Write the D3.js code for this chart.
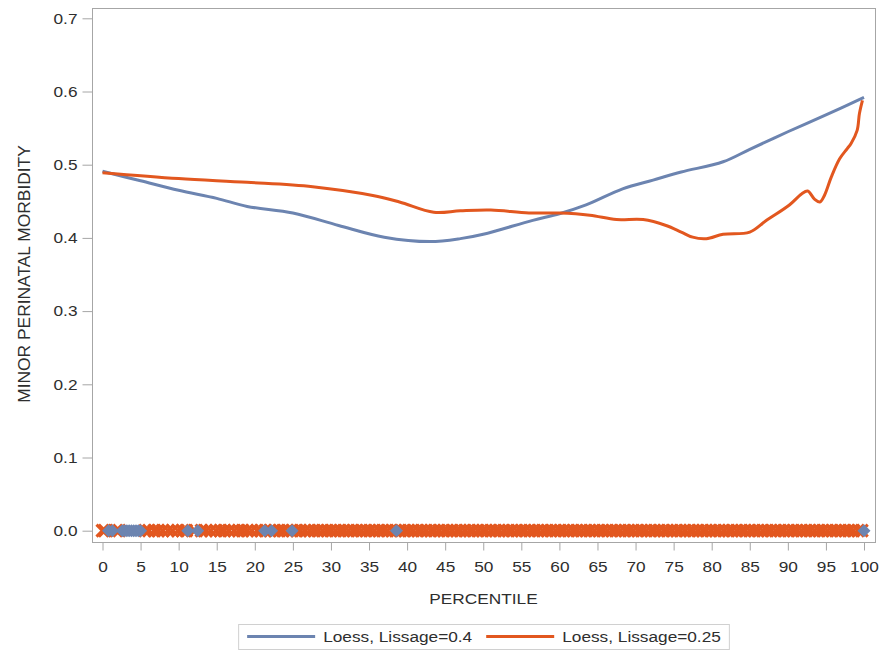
<!DOCTYPE html>
<html>
<head>
<meta charset="utf-8">
<script src="https://cdn.jsdelivr.net/npm/d3@7"></script>
<style>
  html, body { margin: 0; padding: 0; background: #fff; }
  svg { display: block; font-family: "Liberation Sans", Arial, sans-serif; }
</style>
</head>
<body>
<svg id="chart" width="884" height="653"></svg>
<script>
// Loess fit, smoothing 0.4
const loess40X = [0, 5, 10, 15, 19, 25, 31, 37, 43, 47, 50, 56.5, 60, 63.5, 68.3, 72.3, 76, 81.5, 85, 90, 95, 100];
const loess40Y = [0.491, 0.478, 0.465, 0.454, 0.443, 0.434, 0.417, 0.401, 0.395, 0.399, 0.405, 0.424, 0.433, 0.445, 0.467, 0.479, 0.490, 0.504, 0.521, 0.545, 0.568, 0.592];

// Loess fit, smoothing 0.25
const loess25X = [0, 10, 19, 27.6, 35.5, 39, 43.5, 47, 51, 56, 60, 64, 67.5, 71, 74, 76, 77.5, 79.3, 81.5, 85, 87.2, 90.2, 91.8, 92.6, 93.5, 94.2, 94.8, 95.7, 96.8, 97.8, 98.3, 99.1, 99.4, 99.8];
const loess25Y = [0.489, 0.481, 0.476, 0.470, 0.458, 0.449, 0.435, 0.437, 0.438, 0.434, 0.434, 0.431, 0.425, 0.425, 0.417, 0.408, 0.401, 0.399, 0.405, 0.408, 0.424, 0.445, 0.460, 0.464, 0.453, 0.449, 0.458, 0.483, 0.508, 0.522, 0.529, 0.547, 0.570, 0.588];

// Observed cases (morbidity = 0), by percentile
const obsGroup1 = [0.8, 1.3, 2.6, 2.9, 3.2, 3.5, 3.8, 4.1, 4.4, 4.7, 5.0, 11.2, 12.5, 21.3, 22.2, 24.9, 38.6, 100];
const obsGroup2 = [0, 0.3, 1.8, 2.2, 5.6, 6.1, 6.8, 7.3, 7.9, 8.6, 9.2, 9.9, 10.5, 11.0, 12.1, 13.0, 13.6, 14.2, 14.9, 15.5, 16.0, 16.6, 17.3, 17.9, 18.4, 19.0, 19.6, 20.3, 20.8, 21.4, 22.0, 22.6, 23.2, 23.7, 24.3, 24.9, 25.5, 26.0, 26.6, 27.2, 27.8, 28.3, 28.9, 29.5, 30.0, 30.6, 31.2, 31.7, 32.3, 32.9, 33.4, 34.0, 34.6, 35.1, 35.7, 36.3, 36.8, 37.4, 38.0, 38.5, 39.1, 39.7, 40.2, 40.8, 41.4, 41.9, 42.5, 43.1, 43.6, 44.2, 44.8, 45.3, 45.9, 46.5, 47.0, 47.6, 48.2, 48.7, 49.3, 49.9, 50.4, 51.0, 51.6, 52.1, 52.7, 53.3, 53.8, 54.4, 55.0, 55.5, 56.1, 56.7, 57.2, 57.8, 58.4, 58.9, 59.5, 60.1, 60.6, 61.2, 61.8, 62.3, 62.9, 63.5, 64.0, 64.6, 65.2, 65.7, 66.3, 66.9, 67.4, 68.0, 68.6, 69.1, 69.7, 70.3, 70.8, 71.4, 72.0, 72.5, 73.1, 73.7, 74.2, 74.8, 75.4, 75.9, 76.5, 77.1, 77.6, 78.2, 78.8, 79.3, 79.9, 80.5, 81.0, 81.6, 82.2, 82.7, 83.3, 83.9, 84.4, 85.0, 85.6, 86.1, 86.7, 87.3, 87.8, 88.4, 89.0, 89.5, 90.1, 90.7, 91.2, 91.8, 92.4, 92.9, 93.5, 94.1, 94.6, 95.2, 95.8, 96.3, 96.9, 97.5, 98.0, 98.6, 99.2, 99.7];

const xTicks = d3.range(0, 101, 5);
const yTicks = [0, 0.1, 0.2, 0.3, 0.4, 0.5, 0.6, 0.7];
const legendLabels = ["Loess, Lissage=0.4", "Loess, Lissage=0.25"];
const xTitle = "PERCENTILE";
const yTitle = "MINOR PERINATAL MORBIDITY";

const blue = "#6c84b0";
const orange = "#e2571f";
const axisGray = "#a6a6a6";
const textColor = "#2e2e2e";
const fontSize = 15;     // horizontal labels
const widen = 1.15;      // horizontal text stretch

const frame = { left: 92, right: 875, top: 8, bottom: 542 };
const x = d3.scaleLinear().domain([0, 100]).range([102.5, 864]);
const y = d3.scaleLinear().domain([0, 0.7]).range([530.7, 18.3]);

const svg = d3.select("#chart");

// frame
svg.append("rect")
  .attr("x", frame.left + 0.5).attr("y", frame.top + 0.5)
  .attr("width", frame.right - frame.left).attr("height", frame.bottom - frame.top)
  .attr("fill", "none").attr("stroke", axisGray).attr("stroke-width", 1);

// axes
const yAxis = svg.append("g")
  .attr("transform", `translate(${frame.left + 0.5},0)`)
  .call(d3.axisLeft(y).tickValues(yTicks).tickFormat(d3.format(".1f")).tickSize(10));
const xAxis = svg.append("g")
  .attr("transform", `translate(0,${frame.bottom + 0.5})`)
  .call(d3.axisBottom(x).tickValues(xTicks).tickSize(8));
[xAxis, yAxis].forEach(g => {
  g.select(".domain").remove();
  g.selectAll(".tick line").attr("stroke", axisGray);
  g.selectAll(".tick text").attr("fill", textColor).style("font-size", fontSize + "px")
    .style("font-family", '"Liberation Sans", Arial, sans-serif');
});
yAxis.selectAll(".tick text").attr("x", 0).attr("transform", `translate(-15,0) scale(${widen},1)`);
xAxis.selectAll(".tick text").attr("y", 0).attr("dy", 0)
  .attr("transform", `translate(0,29.5) scale(${widen},1)`);

// axis titles
svg.append("text")
  .attr("transform", `translate(${(frame.left + frame.right) / 2},603.5) scale(${widen},1)`)
  .attr("text-anchor", "middle").attr("fill", textColor)
  .style("font-size", fontSize + "px").text(xTitle);
svg.append("text")
  .attr("transform", `translate(30,274) rotate(-90)`)
  .attr("text-anchor", "middle").attr("fill", textColor)
  .style("font-size", "17.4px").text(yTitle);

// clip plot area
svg.append("clipPath").attr("id", "plotClip")
  .append("rect").attr("x", frame.left + 1).attr("y", frame.top + 1)
  .attr("width", frame.right - frame.left - 1).attr("height", frame.bottom - frame.top - 1);
const plot = svg.append("g").attr("clip-path", "url(#plotClip)");

// observation markers on the zero line
const xMark = 6;
plot.append("g").selectAll("path")
  .data(obsGroup2).join("path")
  .attr("d", d => {
    const cx = x(d), cy = y(0);
    return `M${cx - xMark},${cy - xMark}L${cx + xMark},${cy + xMark}M${cx - xMark},${cy + xMark}L${cx + xMark},${cy - xMark}`;
  })
  .attr("stroke", orange).attr("stroke-width", 3.1).attr("fill", "none");
plot.append("g").selectAll("path")
  .data(obsGroup1).join("path")
  .attr("d", d => {
    const cx = x(d), cy = y(0), r = 6.5;
    return `M${cx},${cy - r}L${cx + r},${cy}L${cx},${cy + r}L${cx - r},${cy}Z`;
  })
  .attr("fill", blue);

// fitted curves
const line = d3.line().x(d => x(d[0])).y(d => y(d[1])).curve(d3.curveCatmullRom.alpha(0.5));
plot.append("path")
  .datum(loess40X.map((v, i) => [v, loess40Y[i]]))
  .attr("d", line).attr("fill", "none").attr("stroke", blue).attr("stroke-width", 3);
plot.append("path")
  .datum(loess25X.map((v, i) => [v, loess25Y[i]]))
  .attr("d", line).attr("fill", "none").attr("stroke", orange).attr("stroke-width", 3);

// legend
const legend = svg.append("g");
const legendBox = legend.append("rect")
  .attr("fill", "none").attr("stroke", "#d0d0d0").attr("stroke-width", 1);
const colors = [blue, orange];
const sampleLen = 68, sampleGap = 8, itemGap = 14;
let cursor = 0;
const items = legend.append("g");
legendLabels.forEach((lab, i) => {
  const g = items.append("g").attr("transform", `translate(${cursor},0)`);
  g.append("line").attr("x1", 0).attr("x2", sampleLen).attr("y1", 0).attr("y2", 0)
    .attr("stroke", colors[i]).attr("stroke-width", 3);
  const t = g.append("text")
    .attr("transform", `translate(${sampleLen + sampleGap},0) scale(${widen},1)`)
    .attr("dy", "0.35em")
    .attr("fill", textColor).style("font-size", fontSize + "px").text(lab);
  cursor += sampleLen + sampleGap + t.node().getComputedTextLength() * widen + itemGap;
});
const itemsWidth = cursor - itemGap;
const legendCx = 484, legendCy = 636.5;
items.attr("transform", `translate(${legendCx - itemsWidth / 2},${legendCy})`);
legendBox
  .attr("x", legendCx - itemsWidth / 2 - 8.5).attr("y", 624.5)
  .attr("width", itemsWidth + 17).attr("height", 25);
</script>
</body>
</html>
